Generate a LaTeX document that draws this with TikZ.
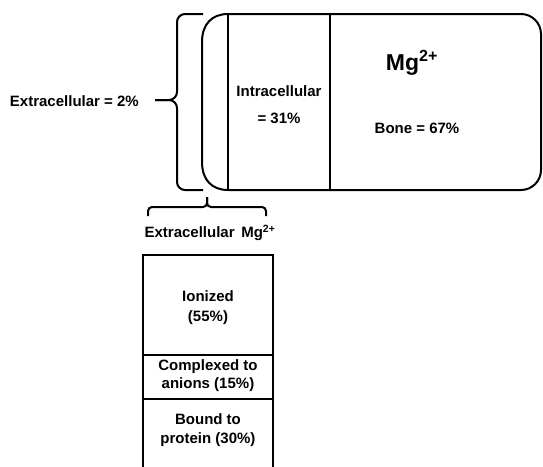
\documentclass[tikz,border=0pt]{standalone}
\usepackage{fontspec}
\setmainfont{Liberation Sans}
\begin{document}
\begin{tikzpicture}[x=1pt,y=-1pt,
  ln/.style={line width=2pt,black},
  lbl/.style={font=\fontsize{15}{18}\selectfont\bfseries,inner sep=0pt,align=center},
  big/.style={font=\fontsize{23}{27}\selectfont\bfseries,inner sep=0pt}]
\useasboundingbox (0,0) rectangle (543,466);
% main cell shape
\draw[ln] (228,14) -- (521,14) .. controls (532,14) and (541,23) .. (541,34)
  -- (541,170) .. controls (541,181) and (532,190) .. (521,190) -- (228,190)
  .. controls (212,190) and (202,180) .. (202,162) -- (202,42)
  .. controls (202,24) and (212,14) .. (228,14);
\draw[ln] (228,14) -- (228,190);
\draw[ln] (330,14) -- (330,190);
\node[lbl] (intra) at (279,91) {Intracellular};
\node[lbl] (intrap) at (279,118) {= 31\%};
\node[big] (mg) at (412,63) {Mg\textsuperscript{2+}};
\node[lbl] (bone) at (417,128) {Bone = 67\%};
% left brace
\coordinate (bt) at (155,100);
\draw[ln,rounded corners=8] (203,14) -- (177,14) -- (177,100) -- (bt);
\draw[ln,rounded corners=8] (203,190) -- (177,190) -- (177,100) -- (bt);
\node[lbl,anchor=east] (extra) at (139,101) {Extracellular = 2\%};
% bottom brace
\coordinate (bb) at (207,197);
\draw[ln,rounded corners=4] (148,216) -- (148,207) -- (207,207) -- (bb);
\draw[ln,rounded corners=4] (266,216) -- (266,207) -- (207,207) -- (bb);
\node[lbl] (extramg) at (210,233) {Extracellular\, Mg\textsuperscript{2+}};
% stack
\draw[ln] (143,470) -- (143,255) -- (273,255) -- (273,470);
\draw[ln] (143,355) -- (273,355);
\draw[ln] (143,399) -- (273,399);
\node[lbl] (ion) at (208,308) {Ionized\\[2pt](55\%)};
\node[lbl] (comp) at (208,376) {Complexed to\\[0pt]anions (15\%)};
\node[lbl] (bound) at (208,430) {Bound to\\[1pt]protein (30\%)};
\end{tikzpicture}
\end{document}
